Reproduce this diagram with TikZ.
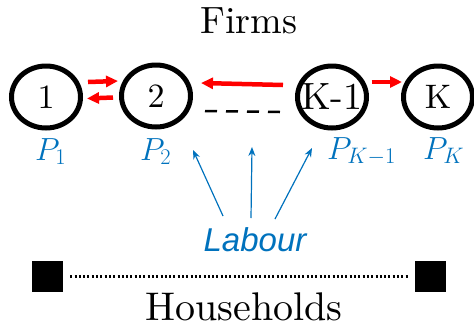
\RequirePackage{fix-cm}
\documentclass[tikz,border=0pt]{standalone}
\usepackage{fontspec}
\setmainfont{lmroman10-regular.otf}
\newfontfamily\labfont{Liberation Sans}
\usetikzlibrary{shapes.geometric,arrows.meta}
\definecolor{labblue}{RGB}{0,114,189}
\definecolor{arrred}{RGB}{255,0,0}
\begin{document}
\begin{tikzpicture}[x=1pt,y=-1pt,
 firm/.style={draw,ellipse,line width=5pt,minimum width=69pt,minimum height=62pt,inner sep=0pt,font=\fontsize{34}{40}\selectfont},
 redarr/.style={draw=arrred,line width=4.5pt,-{Triangle[length=12pt,width=11pt]}},
 bluearr/.style={draw=labblue,line width=1.2pt,-{Stealth[length=9pt,width=7pt]}},
 plab/.style={text=labblue,anchor=base west,inner sep=0pt,font=\fontsize{32}{36}\selectfont},
 title/.style={anchor=base,inner sep=0pt,font=\fontsize{38}{42}\selectfont},
 hhbox/.style={fill=black,minimum size=31pt,inner sep=0pt}]
\useasboundingbox (0,0) rectangle (474,322);
\node[title] (firms) at (249,33) {Firms};
\node[firm] (f1) at (46,97) {\makebox[0pt]{1}};
\node[firm] (f2) at (156,96) {\makebox[0pt]{2}};
\node[firm,font=\fontsize{38}{40}\selectfont] (f3) at (332,97) {\makebox[0pt]{K-1}};
\node[firm] (f4) at (438,97) {\makebox[0pt]{K}};
% red arrows
\draw[redarr] ([shift={(5,-15)}]f1.east) -- ([shift={(-1,-15)}]f2.west);
\draw[redarr] ([shift={(-6,1.5)}]f2.west) -- ([shift={(4,1.5)}]f1.east);
\draw[redarr] ([shift={(-12,-12)}]f3.west) -- ([shift={(8,-13)}]f2.east);
\draw[redarr] ([shift={(2.5,-15)}]f3.east) -- ([shift={(1,-15)}]f4.west);
% dashed
\draw[line width=2.5pt,dash pattern=on 12pt off 9pt] ([shift={(12,15)}]f2.east) -- ([shift={(-15,15)}]f3.west);
% prices
\node[plab] (p1) at (35,160) {$P_1$};
\node[plab] (p2) at (140,160) {$P_2$};
\node[plab] (p3) at (327,159) {$P_{K-1}$};
\node[plab] (p4) at (423,159) {$P_K$};
% labour
\node[text=labblue,anchor=base,inner sep=0pt,font=\labfont\itshape\fontsize{33}{36}\selectfont] (lab) at (255,251) {Labour};
\coordinate (s1) at (223,216);
\coordinate (t1) at (193,150);
\coordinate (s2) at (251,218);
\coordinate (t2) at (252,147);
\coordinate (s3) at (275,219);
\coordinate (t3) at (312,148);
\draw[bluearr] (s1) -- (t1);
\draw[bluearr] (s2) -- (t2);
\draw[bluearr] (s3) -- (t3);
% households
\node[hhbox] (h1) at (47.5,276.5) {};
\node[hhbox] (h2) at (430.5,276.5) {};
\draw[line width=2.5pt,dash pattern=on 2pt off 2.3pt] ([xshift=7pt]h1.east) -- ([xshift=-6pt]h2.west);
\node[title,font=\fontsize{40}{44}\selectfont] (hh) at (244,320) {Households};
\end{tikzpicture}
\end{document}
